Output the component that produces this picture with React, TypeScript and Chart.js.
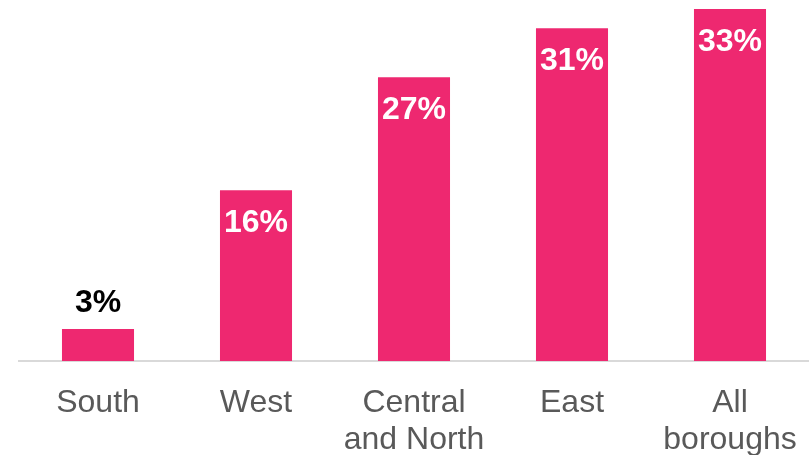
import React, { useEffect, useRef } from "react";
import { Chart, registerables } from "chart.js";

Chart.register(...registerables);

const categories: (string | string[])[] = ["South", "West", ["Central", "and North"], "East", ["All", "boroughs"]];
const shares: number[] = [3, 16, 26.6, 31.2, 33];

const BAR_COLOR = "#EE2870";
const FONT = "'Liberation Sans', Arial, sans-serif";

const labelPlugin = {
  id: "barLabels",
  afterDatasetsDraw(chart: any) {
    const ctx = chart.ctx;
    const meta = chart.getDatasetMeta(0);
    ctx.save();
    ctx.font = `bold 32px ${FONT}`;
    ctx.textAlign = "center";
    ctx.textBaseline = "alphabetic";
    meta.data.forEach((bar: any, i: number) => {
      const v = shares[i];
      const text = `${Math.round(v)}%`;
      const h = bar.base - bar.y;
      if (h < 60) {
        ctx.fillStyle = "#000000";
        ctx.fillText(text, bar.x, bar.y - 17);
      } else {
        ctx.fillStyle = "#FFFFFF";
        ctx.fillText(text, bar.x, bar.y + 42);
      }
    });
    ctx.restore();
  },
};

export default function App() {
  const ref = useRef<HTMLCanvasElement | null>(null);
  useEffect(() => {
    if (!ref.current) return;
    const chart = new Chart(ref.current, {
      type: "bar",
      data: {
        labels: categories as any,
        datasets: [
          {
            data: shares,
            backgroundColor: BAR_COLOR,
            borderWidth: 0,
            barPercentage: 0.456,
            categoryPercentage: 1,
          },
        ],
      },
      options: {
        animation: false,
        responsive: true,
        maintainAspectRatio: false,
        layout: { padding: { left: 19, right: 0, top: 9, bottom: 0 } },
        plugins: { legend: { display: false }, tooltip: { enabled: false } },
        scales: {
          x: {
            grid: { display: false, drawTicks: false },
            border: { display: true, color: "#D9D9D9", width: 2 },
            ticks: {
              color: "#595959",
              font: { family: FONT, size: 32, lineHeight: 1.156 },
              padding: 24,
              autoSkip: false,
              maxRotation: 0,
              minRotation: 0,
            },
            afterFit: (scale: any) => {
              scale.height = 94;
              scale.paddingLeft = 0;
              scale.paddingRight = 0;
            },
          },
          y: {
            display: false,
            min: 0,
            max: 33,
          },
        },
      },
      plugins: [labelPlugin],
    });
    return () => chart.destroy();
  }, []);
  return (
    <div style={{ position: "fixed", left: 0, top: 0, width: 809, height: 455, background: "#fff" }}>
      <canvas ref={ref} />
    </div>
  );
}
